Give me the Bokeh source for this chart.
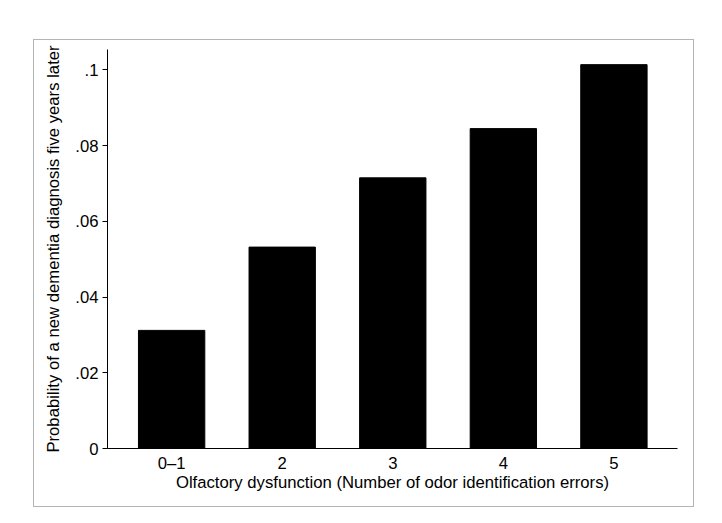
from bokeh.plotting import figure
from bokeh.models import FixedTicker, Range1d
from bokeh.embed import file_html
from bokeh.resources import INLINE

categories = ["0–1", "2", "3", "4", "5"]
positions = [1, 2, 3, 4, 5]
probability = [0.0312, 0.0532, 0.0715, 0.0845, 0.1014]
y_ticks = [0, 0.02, 0.04, 0.06, 0.08, 0.1]
y_tick_labels = ["0", ".02", ".04", ".06", ".08", ".1"]

FONT = "Liberation Sans"
FS = "16.7px"

p = figure(width=659, height=466, output_backend="svg", toolbar_location=None,
           x_range=Range1d(0.42, 5.575), y_range=Range1d(0, 0.1054),
           min_border_left=73, min_border_right=16, min_border_top=9, min_border_bottom=58,
           margin=(40, 0, 0, 34), styles={"outline": "1px solid #b4b4b4"})
p.outline_line_color = None
p.xgrid.visible = False
p.ygrid.visible = False
p.background_fill_color = "white"
p.border_fill_color = "white"

p.vbar(x=positions, top=probability, width=0.6, color="black")

p.xaxis.ticker = FixedTicker(ticks=positions)
p.xaxis.major_label_overrides = {pos: lab for pos, lab in zip(positions, categories)}
p.yaxis.ticker = FixedTicker(ticks=y_ticks)
p.yaxis.major_label_overrides = {t: l for t, l in zip(y_ticks, y_tick_labels)}

for ax in (p.xaxis[0], p.yaxis[0]):
    ax.axis_line_color = "black"
    ax.axis_line_width = 1
    ax.minor_tick_line_color = None
    ax.major_label_text_font = FONT
    ax.major_label_text_color = "black"
    ax.major_label_text_font_size = FS
    ax.axis_label_text_font = FONT
    ax.axis_label_text_font_style = "normal"
    ax.axis_label_text_color = "black"
    ax.axis_label_text_font_size = FS

p.xaxis.major_tick_line_color = None
p.xaxis.major_tick_in = 0
p.xaxis.major_tick_out = 0
p.xaxis.major_label_standoff = 5
p.xaxis.axis_label = "Olfactory dysfunction (Number of odor identification errors)"
p.xaxis.axis_label_standoff = -3

p.yaxis.major_tick_in = 0
p.yaxis.major_tick_out = 5
p.yaxis.major_tick_line_color = "black"
p.yaxis.major_label_standoff = 4
p.yaxis.axis_label = "Probability of a new dementia diagnosis five years later"
p.yaxis.axis_label_standoff = 9

open("out.html", "w").write(file_html(p, INLINE))
